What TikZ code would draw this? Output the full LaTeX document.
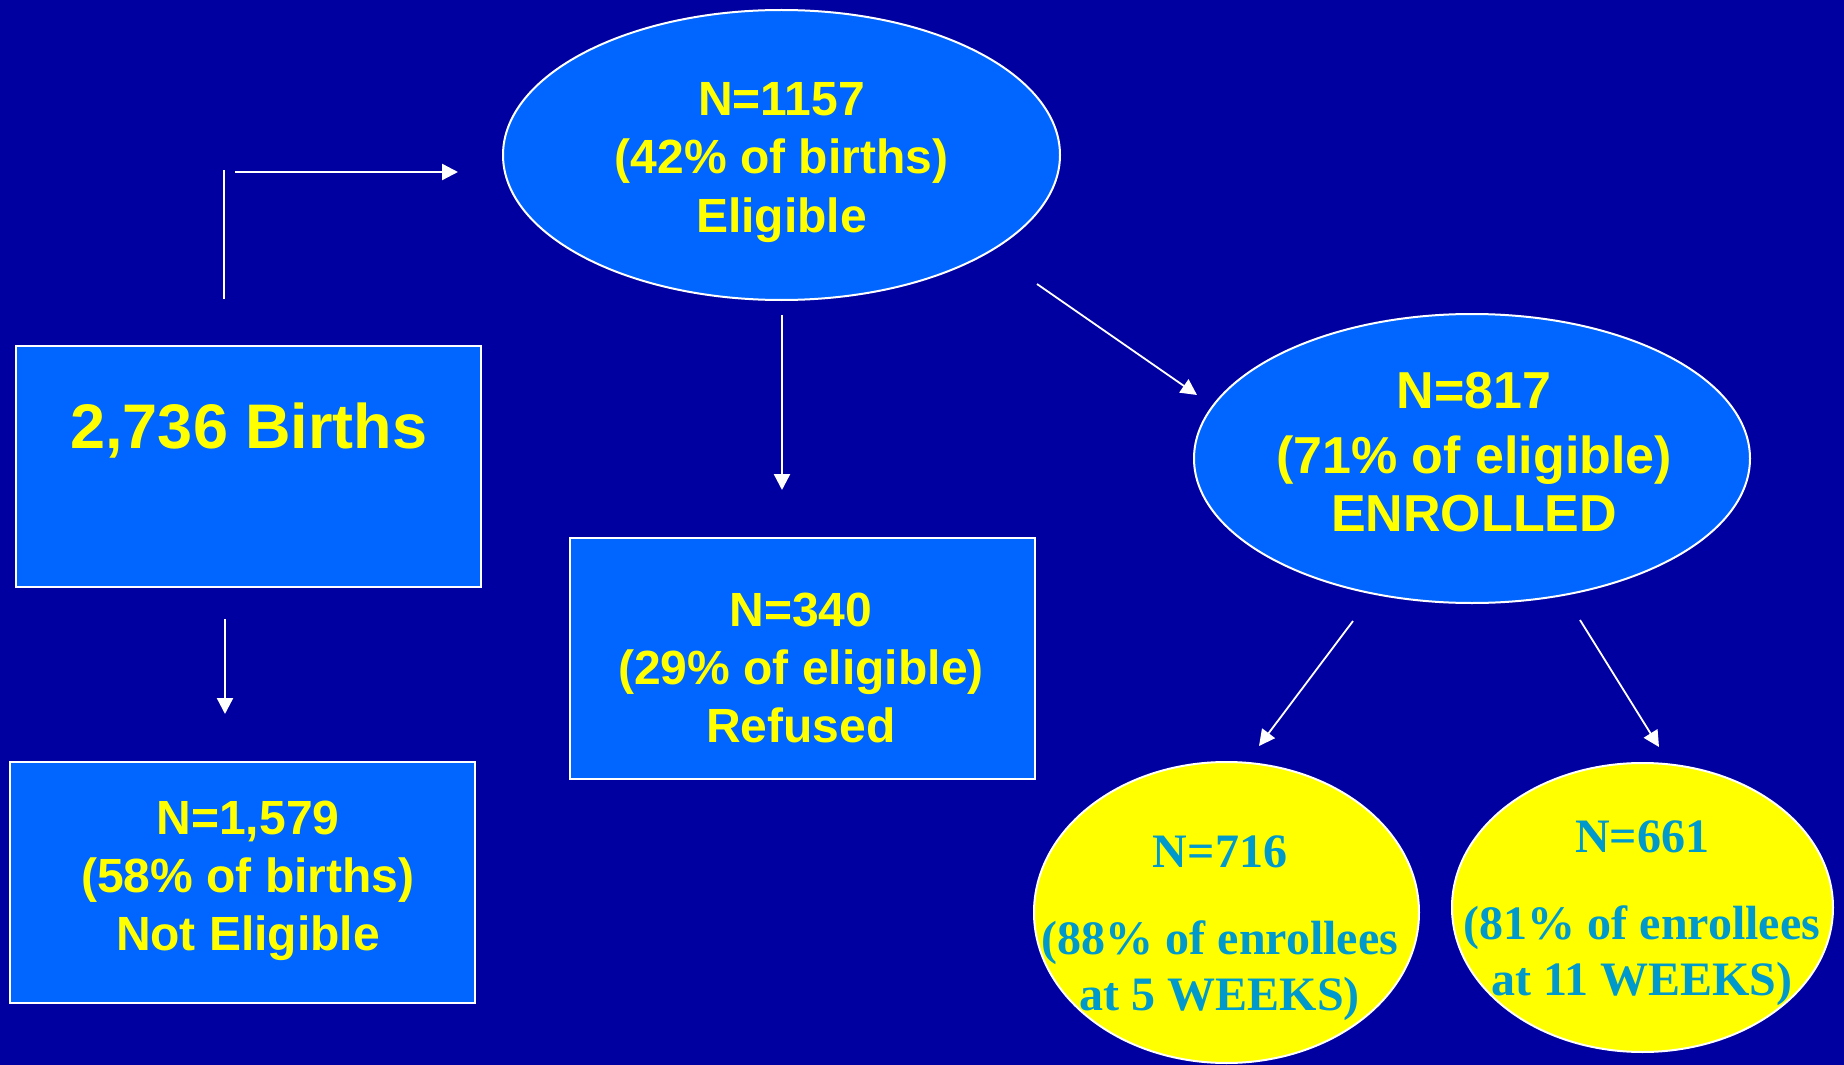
\documentclass[tikz,border=0pt]{standalone}
\usepackage{fontspec}
\setmainfont{Liberation Sans}
\newfontfamily\serifbf{Liberation Serif}
\usetikzlibrary{arrows.meta,shapes.geometric}
\definecolor{bgblue}{HTML}{0000A0}
\definecolor{boxblue}{HTML}{0066FF}
\definecolor{txtyellow}{HTML}{FFFF00}
\definecolor{txtcyan}{HTML}{0099CC}
\begin{document}
\begin{tikzpicture}[x=0.5pt,y=-0.5pt,
  boxnode/.style={draw=white, line width=1.2pt, fill=boxblue, inner sep=0pt,
    minimum width=232.5pt, minimum height=120.5pt},
  ovalnode/.style={ellipse, draw=white, line width=1pt, fill=boxblue, inner sep=0pt},
  yovalnode/.style={ellipse, draw=white, line width=1pt, fill=txtyellow, inner sep=0pt},
  sanstext/.style={anchor=north, inner sep=0pt, align=center, text=txtyellow,
    font=\bfseries\fontsize{24}{29}\selectfont},
  seriftext/.style={anchor=north, inner sep=0pt, align=center, text=txtcyan,
    font=\serifbf\bfseries\fontsize{24}{28}\selectfont},
  link/.style={draw=white, line width=1.2pt, -{Triangle[length=8pt,width=8pt]}},
  thinlink/.style={draw=white, line width=0.9pt, -{Triangle[length=8pt,width=8pt]}},
  plainline/.style={draw=white, line width=1.2pt}
]
\fill[bgblue] (0,0) rectangle (1844,1065);
\useasboundingbox (0,0) rectangle (1844,1065);

% shapes
\node[boxnode] (births) at (248.5,466.5) {};
\node[boxnode] (notelig) at (242.5,882.5) {};
\node[boxnode] (refused) at (802.5,658.5) {};
\node[ovalnode, minimum width=278.5pt, minimum height=145pt] (eligible) at (781.5,155) {};
\node[ovalnode, minimum width=278pt, minimum height=144.5pt] (enrolled) at (1472,458.5) {};
\node[yovalnode, minimum width=192.5pt, minimum height=150.5pt] (wk5) at (1226.5,912.5) {};
\node[yovalnode, minimum width=190.5pt, minimum height=144.5pt] (wk11) at (1642.5,907.5) {};

% texts
\node[sanstext, font=\bfseries\fontsize{31.5}{36}\selectfont] (births-t) at (249,402) {2,736 Births};
\node[sanstext, font=\bfseries\fontsize{24}{29.25}\selectfont] (eligible-t) at (781.5,82) {N=1157\\(42\% of births)\\Eligible};
\node[sanstext, font=\bfseries\fontsize{26}{29}\selectfont] (enrolled-t) at (1474,372) {N=817\\[3.5pt](71\% of eligible)\\ENROLLED};
\node[sanstext] (refused-t) at (801,593) {N=340\\(29\% of eligible)\\Refused};
\node[sanstext] (notelig-t) at (248,801) {N=1,579\\(58\% of births)\\Not Eligible};
\node[seriftext] (wk5-t) at (1220,835) {N=716\\[15.5pt](88\% of enrollees\\at 5 WEEKS)};
\node[seriftext] (wk11-t) at (1642,820) {N=661\\[15.5pt](81\% of enrollees\\at 11 WEEKS)};

% connector end points
\coordinate (up0) at (224,299);
\coordinate (up1) at (224,170);
\coordinate (rt0) at (235,172);
\coordinate (rt1) at (458,172);
\coordinate (dn0) at (225,619);
\coordinate (dn1) at (225,714);
\coordinate (ed0) at (782,315);
\coordinate (ed1) at (782,490);
\coordinate (dg0) at (1037,284);
\coordinate (dg1) at (1197,395);
\coordinate (l0) at (1353,621);
\coordinate (l1) at (1259,746);
\coordinate (r0) at (1580,620);
\coordinate (r1) at (1659,747);

% connectors
\draw[plainline] (up0) -- (up1);
\draw[link] (rt0) -- (rt1);
\draw[link] (dn0) -- (dn1);
\draw[link] (ed0) -- (ed1);
\draw[thinlink] (dg0) -- (dg1);
\draw[thinlink] (l0) -- (l1);
\draw[thinlink] (r0) -- (r1);
\end{tikzpicture}
\end{document}
